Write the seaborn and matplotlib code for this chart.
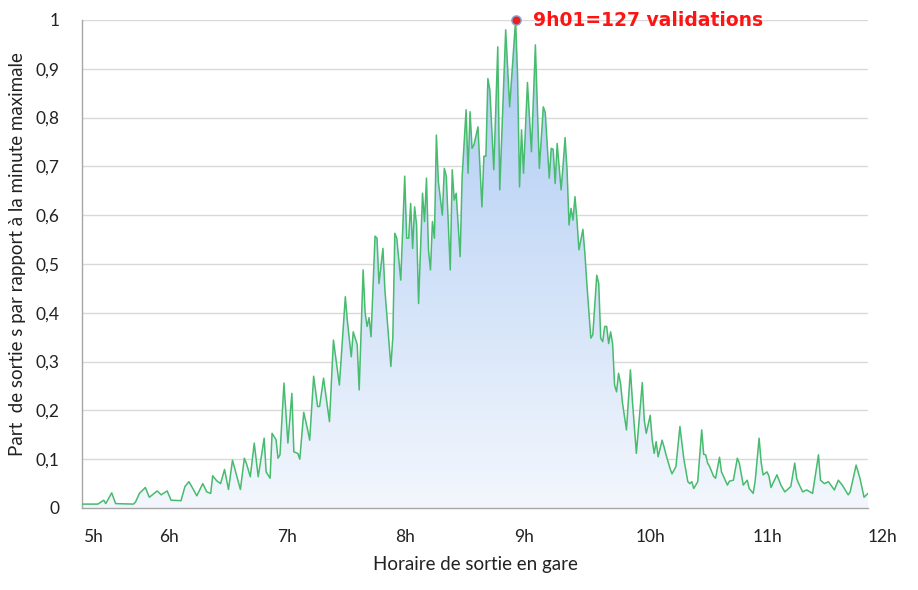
import numpy as np
import matplotlib
matplotlib.use("Agg")
import matplotlib.pyplot as plt
from matplotlib.colors import LinearSegmentedColormap
import seaborn as sns

# minutes after midnight (5h22 .. 11h59) and share of the max minute
minutes = [322, 330, 333, 334, 337, 339, 348, 349, 351, 354, 356, 360, 362, 365, 367, 372,
           374, 376, 377, 380, 383, 385, 387, 388, 390, 392, 394, 396, 398, 402, 404, 405,
           407, 409, 411, 414, 415, 417, 418, 420, 421, 422, 424, 426, 428, 429, 431, 432,
           434, 436, 437, 439, 441, 442, 444, 447, 449, 452, 455, 456, 458, 459, 461, 462,
           464, 465, 466, 467, 468, 470, 471, 472, 474, 475, 478, 479, 480, 481, 483, 485,
           486, 487, 488, 489, 490, 491, 492, 494, 495, 496, 497, 498, 499, 500, 501, 502,
           504, 505, 506, 508, 509, 510, 511, 513, 514, 516, 517, 518, 519, 520, 522, 524,
           525, 526, 527, 528, 530, 532, 533, 536, 538, 541, 542, 543, 544, 545, 547, 549,
           551, 553, 555, 556, 558, 559, 560, 561, 562, 564, 565, 566, 567, 568, 569, 570,
           571, 572, 573, 575, 576, 577, 579, 580, 582, 583, 584, 585, 586, 587, 588, 589,
           590, 591, 592, 593, 594, 595, 597, 599, 600, 602, 605, 606, 607, 609, 610, 611,
           612, 613, 615, 616, 617, 619, 620, 622, 624, 626, 628, 629, 630, 631, 633, 635,
           636, 637, 638, 639, 641, 642, 644, 645, 648, 649, 651, 653, 654, 656, 658, 659,
           661, 662, 664, 665, 666, 668, 669, 670, 673, 675, 677, 680, 682, 683, 684, 686,
           688, 691, 694, 695, 697, 699, 702, 704, 706, 709, 710, 713, 715, 717, 719]
share = [0.008, 0.008, 0.016, 0.009, 0.031, 0.009, 0.008, 0.012, 0.030, 0.042, 0.022, 0.035,
         0.027, 0.035, 0.016, 0.015, 0.044, 0.054, 0.047, 0.025, 0.050, 0.033, 0.030, 0.066,
         0.056, 0.050, 0.079, 0.038, 0.098, 0.038, 0.102, 0.092, 0.064, 0.133, 0.064, 0.143,
         0.074, 0.061, 0.153, 0.140, 0.102, 0.109, 0.256, 0.133, 0.235, 0.115, 0.112, 0.100,
         0.196, 0.160, 0.139, 0.270, 0.208, 0.208, 0.266, 0.177, 0.344, 0.252, 0.433, 0.385,
         0.310, 0.361, 0.335, 0.242, 0.488, 0.400, 0.372, 0.390, 0.351, 0.557, 0.553, 0.460,
         0.532, 0.447, 0.290, 0.350, 0.563, 0.553, 0.467, 0.680, 0.553, 0.553, 0.624, 0.532,
         0.617, 0.580, 0.419, 0.645, 0.587, 0.676, 0.529, 0.488, 0.587, 0.553, 0.764, 0.669,
         0.600, 0.696, 0.680, 0.488, 0.693, 0.631, 0.645, 0.515, 0.679, 0.816, 0.686, 0.812,
         0.737, 0.745, 0.781, 0.617, 0.721, 0.721, 0.880, 0.857, 0.693, 0.945, 0.652, 0.980,
         0.822, 1.000, 0.887, 0.658, 0.775, 0.686, 0.872, 0.730, 0.949, 0.696, 0.822, 0.810,
         0.676, 0.737, 0.735, 0.665, 0.747, 0.652, 0.703, 0.759, 0.693, 0.580, 0.614, 0.590,
         0.638, 0.590, 0.529, 0.571, 0.522, 0.460, 0.348, 0.355, 0.477, 0.460, 0.348, 0.341,
         0.372, 0.372, 0.337, 0.361, 0.337, 0.252, 0.238, 0.276, 0.256, 0.215, 0.160, 0.283,
         0.220, 0.112, 0.257, 0.180, 0.153, 0.190, 0.140, 0.112, 0.136, 0.105, 0.139, 0.125,
         0.109, 0.081, 0.070, 0.085, 0.167, 0.100, 0.054, 0.050, 0.054, 0.040, 0.054, 0.160,
         0.110, 0.109, 0.092, 0.085, 0.065, 0.061, 0.104, 0.074, 0.047, 0.055, 0.057, 0.102,
         0.092, 0.047, 0.057, 0.040, 0.030, 0.055, 0.143, 0.095, 0.068, 0.074, 0.065, 0.042,
         0.068, 0.047, 0.033, 0.044, 0.092, 0.060, 0.050, 0.033, 0.037, 0.030, 0.109, 0.057,
         0.050, 0.054, 0.037, 0.057, 0.047, 0.027, 0.033, 0.088, 0.060, 0.022, 0.030]

tick_minutes = [327.7, 366.1, 425.7, 485.3, 545.4, 609.0, 668.1, 726.2]
tick_labels = ["5h", "6h", "7h", "8h", "9h", "10h", "11h", "12h"]
y_ticks = [0, 0.1, 0.2, 0.3, 0.4, 0.5, 0.6, 0.7, 0.8, 0.9, 1.0]
peak_minute = 541
peak_text = "9h01=127 validations"

sns.set_theme(style="whitegrid")
plt.rcParams['font.family'] = ['Lato', 'DejaVu Sans']

fig = plt.figure(figsize=(9.18, 5.90), dpi=100)
ax = fig.add_axes([82 / 918, 1 - 508 / 590, 786 / 918, 488 / 590])

# gradient fill under the curve
fill = ax.fill_between(minutes, share, 0, color='none', linewidth=0)
cmap = LinearSegmentedColormap.from_list("fade", ["#f3f7fd", "#abc9f3"])
grad = np.linspace(0, 1, 256).reshape(-1, 1)
img = ax.imshow(grad, cmap=cmap, origin='lower', aspect='auto',
                extent=[minutes[0], minutes[-1], 0, 1], zorder=2)
img.set_clip_path(fill.get_paths()[0], transform=ax.transData)

sns.lineplot(x=minutes, y=share, ax=ax, color='#47bb6e', linewidth=1.1, zorder=3)

ax.scatter([peak_minute], [1.0], s=45, color='#e8211c', edgecolor='#8fa6d6',
           linewidth=1.0, zorder=5, clip_on=False)
ax.text(550, 1.0, peak_text, color='#ff1414', fontsize=13.5, fontweight='bold',
        family=['DejaVu Sans'], ha='left', va='center', zorder=6)

tick_size = 12.5
tick_pad = 15
# the last label sits past the end of the data, so it is placed by hand
ax.set_xticks(tick_minutes[:-1])
ax.set_xticklabels(tick_labels[:-1])
ax.annotate(tick_labels[-1], xy=(tick_minutes[-1], 0), xycoords=('data', 'axes fraction'),
            xytext=(0, -tick_pad), textcoords='offset points', ha='center', va='top',
            fontsize=tick_size, color='#222222', annotation_clip=False)
ax.set_yticks(y_ticks)
ax.set_yticklabels([("%g" % v).replace(".", ",") for v in y_ticks])
ax.set_xlim(minutes[0], minutes[-1])
ax.set_ylim(0, 1)
ax.tick_params(axis='both', length=0, labelsize=tick_size, colors='#222222')
ax.tick_params(axis='y', pad=16)
ax.tick_params(axis='x', pad=tick_pad)

ax.grid(False, axis='x')
ax.grid(True, axis='y', color='#d9d9d9', linewidth=1.0)
ax.set_facecolor('white')
for side in ['top', 'right']:
    ax.spines[side].set_visible(False)
for side in ['left', 'bottom']:
    ax.spines[side].set_color('#a6a6a6')
    ax.spines[side].set_linewidth(1.0)

ax.set_xlabel("Horaire de sortie en gare", fontsize=13.5, color='#222222')
ax.set_ylabel("Part  de sortie s par rapport à la minute maximale", fontsize=13.5, color='#222222')
ax.xaxis.set_label_coords(0.5, -0.098)
ax.yaxis.set_label_coords(-0.071, 0.52)

fig.savefig("out.png", dpi=100)
